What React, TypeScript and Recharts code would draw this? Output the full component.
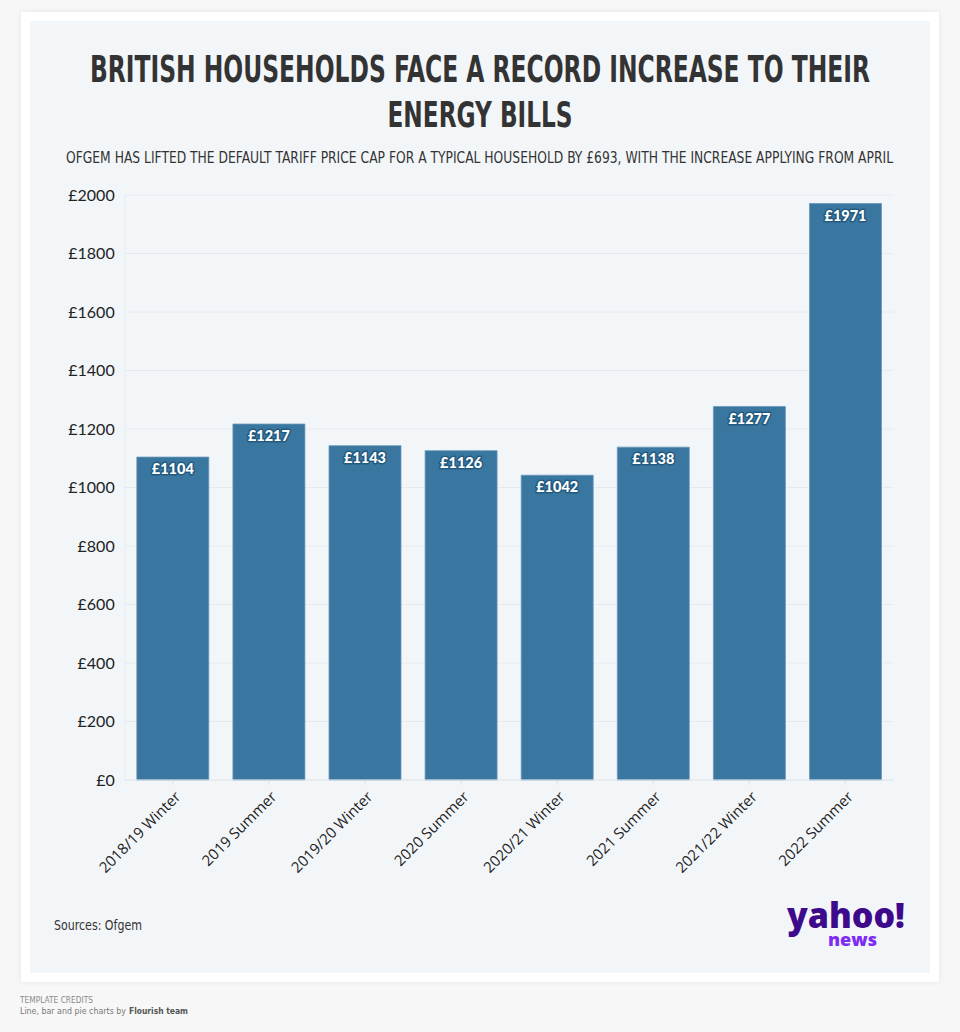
import React from "react";
import { BarChart, Bar, XAxis, YAxis, CartesianGrid, LabelList } from "recharts";

const CATEGORIES = [
  "2018/19 Winter",
  "2019 Summer",
  "2019/20 Winter",
  "2020 Summer",
  "2020/21 Winter",
  "2021 Summer",
  "2021/22 Winter",
  "2022 Summer",
];
const PRICE_CAP = [1104, 1217, 1143, 1126, 1042, 1138, 1277, 1971];
const Y_TICKS = [0, 200, 400, 600, 800, 1000, 1200, 1400, 1600, 1800, 2000];

const TITLE_LINES = ["BRITISH HOUSEHOLDS FACE A RECORD INCREASE TO THEIR", "ENERGY BILLS"];
const SUBTITLE =
  "OFGEM HAS LIFTED THE DEFAULT TARIFF PRICE CAP FOR A TYPICAL HOUSEHOLD BY £693, WITH THE INCREASE APPLYING FROM APRIL";

const BAR = "#3a77a0";
const NARROW = "'Liberation Sans Narrow', 'DejaVu Sans Condensed', sans-serif";

const data = CATEGORIES.map((name, i) => ({ name, value: PRICE_CAP[i] }));

const XTick = (props: any) => {
  const { x, y, payload } = props;
  return (
    <g transform={`translate(${x + 5},${y + 7})`}>
      <text
        transform="rotate(-45)"
        textAnchor="end"
        dy="0.35em"
        fontSize={15}
        fontFamily="'Open Sans', sans-serif"
        fill="#222"
      >
        {payload.value}
      </text>
    </g>
  );
};

const BarLabel = (props: any) => {
  const { x, y, width, value } = props;
  return (
    <text
      x={x + width / 2}
      y={y + 12}
      dy="0.35em"
      textAnchor="middle"
      fontSize={14.5}
      fontWeight={900}
      fontFamily="Lato, sans-serif"
      fill="#fff"
      stroke="#235a80"
      strokeWidth={3}
      strokeLinejoin="round"
      paintOrder="stroke"
    >
      £{value}
    </text>
  );
};

export default function App() {
  return (
    <div
      style={{
        position: "absolute",
        left: 0,
        top: 0,
        width: 960,
        height: 1032,
        background: "#f7f7f7",
        overflow: "hidden",
      }}
    >
      {/* card + panel */}
      <div
        style={{
          position: "absolute",
          left: 21,
          top: 12,
          width: 918,
          height: 970,
          background: "#fff",
          boxShadow: "0 0 6px rgba(0,0,0,0.08)",
        }}
      />
      <div
        style={{
          position: "absolute",
          left: 30,
          top: 21,
          width: 900,
          height: 952,
          background: "#f3f6f9",
        }}
      />

      <svg style={{ position: "absolute", left: 0, top: 0 }} width={960} height={180}>
        <text
          x={480}
          y={82}
          textAnchor="middle"
          fontFamily={NARROW}
          fontWeight={700}
          fontSize={38}
          fill="#333"
          textLength={780}
          lengthAdjust="spacingAndGlyphs"
        >
          {TITLE_LINES[0]}
        </text>
        <text
          x={480}
          y={127}
          textAnchor="middle"
          fontFamily={NARROW}
          fontWeight={700}
          fontSize={36}
          fill="#333"
          textLength={185}
          lengthAdjust="spacingAndGlyphs"
        >
          {TITLE_LINES[1]}
        </text>
        <text
          x={479.5}
          y={163}
          textAnchor="middle"
          fontFamily={NARROW}
          fontSize={15.5}
          fill="#333"
          textLength={827}
          lengthAdjust="spacingAndGlyphs"
        >
          {SUBTITLE}
        </text>
      </svg>

      <div style={{ position: "absolute", left: 0, top: 0 }}>
        <BarChart
          width={960}
          height={900}
          data={data}
          margin={{ top: 195, right: 66.5, bottom: 30, left: 64.7 }}
          barCategoryGap="12.6%"
        >
          <CartesianGrid vertical={false} stroke="#e6eaee" />
          <XAxis
            dataKey="name"
            height={90}
            interval={0}
            tick={<XTick />}
            tickSize={5}
            axisLine={{ stroke: "#e3e7eb" }}
            tickLine={{ stroke: "#dde2e6" }}
          />
          <YAxis
            width={60}
            domain={[0, 2000]}
            ticks={Y_TICKS}
            interval={0}
            tickFormatter={(v: number) => `£${v}`}
            tickSize={0}
            tickMargin={10}
            axisLine={{ stroke: "#e9edf0" }}
            tick={{ fontSize: 16, fill: "#222", fontFamily: "Lato, sans-serif" }}
          />
          <Bar dataKey="value" fill={BAR} stroke="#6a98bb" strokeWidth={0.8} isAnimationActive={false}>
            <LabelList dataKey="value" content={<BarLabel />} />
          </Bar>
        </BarChart>
      </div>

      <svg style={{ position: "absolute", left: 0, top: 890 }} width={960} height={142}>
        <text x={54} y={40} fontFamily={NARROW} fontSize={13.5} fill="#333" textLength={88} lengthAdjust="spacingAndGlyphs">
          Sources: Ofgem
        </text>

        <text
          x={787}
          y={38}
          fontFamily="'Open Sans', sans-serif"
          fontWeight={800}
          fontSize={36}
          fill="#3e0a8c"
          textLength={118}
          lengthAdjust="spacingAndGlyphs"
        >
          yahoo!
        </text>
        <text
          x={828}
          y={56}
          fontFamily="'Open Sans', sans-serif"
          fontWeight={800}
          fontSize={17}
          fill="#7c2cf5"
          textLength={49}
          lengthAdjust="spacingAndGlyphs"
        >
          news
        </text>

        <text x={20} y={113} fontFamily={NARROW} fontSize={9} fill="#8a8a8a" textLength={73} lengthAdjust="spacingAndGlyphs">
          TEMPLATE CREDITS
        </text>
        <text x={20} y={124} fontFamily={NARROW} fontSize={9.5} fill="#777" textLength={106} lengthAdjust="spacingAndGlyphs">
          Line, bar and pie charts by
        </text>
        <text x={129} y={124} fontFamily={NARROW} fontSize={9.5} fontWeight={700} fill="#555" textLength={59} lengthAdjust="spacingAndGlyphs">
          Flourish team
        </text>
      </svg>
    </div>
  );
}
